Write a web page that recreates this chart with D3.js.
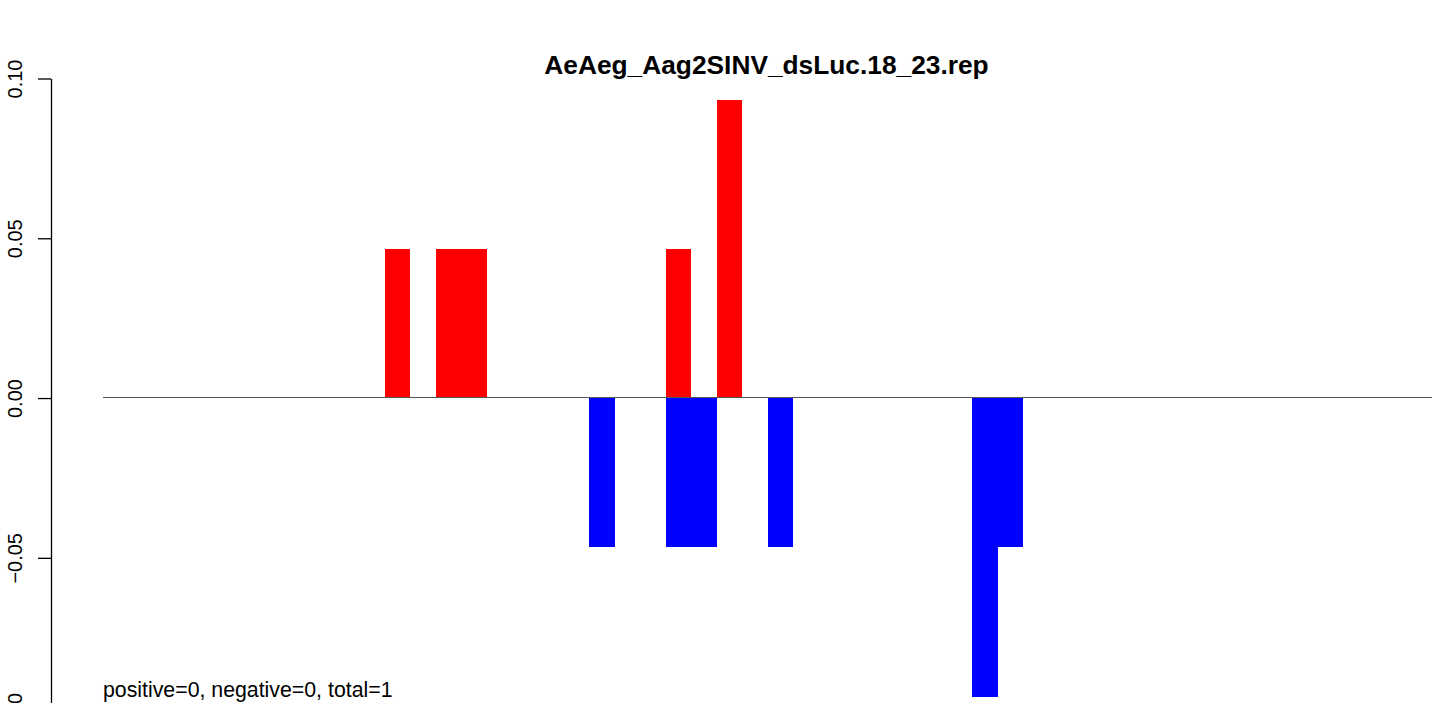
<!DOCTYPE html>
<html>
<head>
<meta charset="utf-8">
<script src="https://cdn.jsdelivr.net/npm/d3@7"></script>
<style>
  html, body { margin: 0; padding: 0; background: #fff; overflow: hidden; }
  svg { display: block; font-family: "Liberation Sans", Arial, Helvetica, sans-serif; }
</style>
</head>
<body>
<svg id="chart" width="1439" height="703"></svg>
<script>
// ---- data ----
const titleText = "AeAeg_Aag2SINV_dsLuc.18_23.rep";
const footText = "positive=0, negative=0, total=1";
const positions = d3.range(1, 53); // 52 positions
const positiveIdx = [12, 14, 15, 23, 25];
const positiveVals = [0.0467, 0.0467, 0.0467, 0.0467, 0.0934];
const negativeIdx = [20, 23, 24, 27, 35, 36];
const negativeVals = [-0.0467, -0.0467, -0.0467, -0.0467, -0.0934, -0.0467];
const yTicks = [-0.10, -0.05, 0.00, 0.05, 0.10];

// ---- layout ----
const svg = d3.select("#chart");
const x = d3.scaleBand().domain(positions).range([103.8, 1432]).padding(0);
const y = d3.scaleLinear().domain([-0.10, 0.10]).range([717.6, 78.5]);

const posData = positiveIdx.map((p, i) => ({ p, v: positiveVals[i] }));
const negData = negativeIdx.map((p, i) => ({ p, v: negativeVals[i] }));

svg.append("g").selectAll("rect").data(posData).join("rect")
  .attr("x", d => x(d.p))
  .attr("width", x.bandwidth())
  .attr("y", d => y(d.v))
  .attr("height", d => y(0) - y(d.v))
  .attr("fill", "#ff0000")
  .attr("shape-rendering", "crispEdges");

svg.append("g").selectAll("rect").data(negData).join("rect")
  .attr("x", d => x(d.p))
  .attr("width", x.bandwidth())
  .attr("y", y(0))
  .attr("height", d => y(d.v) - y(0))
  .attr("fill", "#0000ff")
  .attr("shape-rendering", "crispEdges");

// zero line
svg.append("line")
  .attr("x1", 103).attr("x2", 1432)
  .attr("y1", Math.round(y(0)) - 0.5).attr("y2", Math.round(y(0)) - 0.5)
  .attr("stroke", "#555").attr("stroke-width", 1);

// y axis
const fmt = d3.format(".2f");
const yAxis = d3.axisLeft(y).tickValues(yTicks).tickSize(13).tickSizeOuter(0)
  .tickFormat(d => fmt(d));
const gy = svg.append("g").attr("transform", "translate(51,0)").call(yAxis);
gy.select(".domain").attr("stroke", "#000").attr("stroke-width", 1.3);
gy.selectAll(".tick line").attr("stroke", "#000").attr("stroke-width", 1.3);
gy.selectAll(".tick text")
  .attr("x", null).attr("dy", null)
  .attr("text-anchor", "middle")
  .attr("transform", "translate(-29.5,0) rotate(-90)")
  .attr("fill", "#000")
  .style("font-size", "20px")
  .style("font-family", "Liberation Sans, Arial, sans-serif");

// title
svg.append("text")
  .attr("x", 766.5).attr("y", 73.5)
  .attr("text-anchor", "middle")
  .style("font-weight", "bold")
  .style("font-size", "26.3px")
  .text(titleText);

// footer text
svg.append("text")
  .attr("x", 103).attr("y", 697)
  .style("font-size", "21.3px")
  .text(footText);
</script>
</body>
</html>
